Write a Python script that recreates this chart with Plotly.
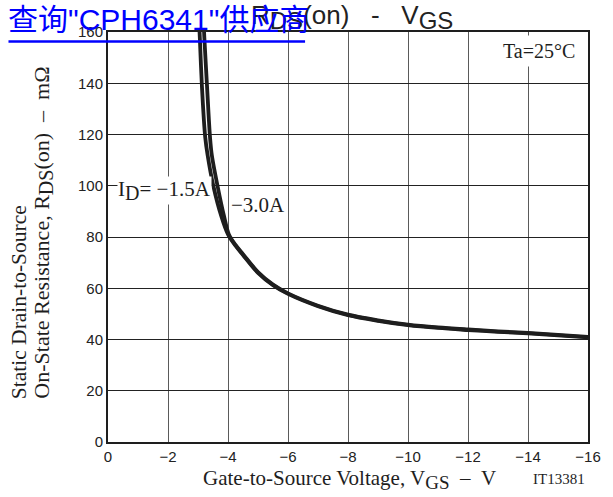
import plotly.graph_objects as go

# ---- data ----
vgs_ticks = [0, -2, -4, -6, -8, -10, -12, -14, -16]
vgs_tick_labels = ["0", "\u22122", "\u22124", "\u22126", "\u22128", "\u221210", "\u221212", "\u221214", "\u221216"]
rds_ticks = [0, 20, 40, 60, 80, 100, 120, 140, 160]
rds_tick_labels = ["0", "20", "40", "60", "80", "100", "120", "140", "160"]

vgs_id15 = [-3.04, -3.06, -3.13, -3.24, -3.32, -3.51, -3.78, -4.0, -4.25, -4.5, -5.0, -5.5, -6.0,
            -7.0, -8.0, -9.0, -10.0, -11.0, -12.0, -13.0, -14.0, -15.0, -16.0]
rds_id15 = [163, 158, 139, 119, 112, 100, 88, 81, 76.6, 73, 66, 61.2, 57.8,
            53, 49.5, 47.3, 45.6, 44.5, 43.7, 43, 42.4, 41.6, 40.8]

vgs_id30 = [-3.19, -3.21, -3.30, -3.40, -3.46, -3.65, -3.87, -4.03, -4.25, -4.5, -5.0, -5.5, -6.0,
            -7.0, -8.0, -9.0, -10.0, -11.0, -12.0, -13.0, -14.0, -15.0, -16.0]
rds_id30 = [163, 158, 139, 119, 112, 100, 88, 81, 76.9, 73.3, 66.3, 61.4, 58.0,
            53.2, 49.7, 47.5, 45.8, 44.7, 43.9, 43.2, 42.6, 41.8, 41.0]

W, H = 613, 497
L, R, T, B = 108, 13, 32, 55
PW, PH = W - L - R, H - T - B


def px(x):
    return (x - L) / PW


def py(y):
    return (H - B - y) / PH


def sub(s, size):
    return "<sub><span style='font-size:%dpx'>%s</span></sub>" % (size, s)


NB = "\u00a0"
SERIF = "Liberation Serif, Times New Roman, serif"
SANS = "Liberation Sans, Arial, sans-serif"
INK = "#1e1e1e"

fig = go.Figure()
for xs, ys in [(vgs_id15, rds_id15), (vgs_id30, rds_id30)]:
    fig.add_trace(go.Scatter(x=xs, y=ys, mode="lines",
                             line=dict(color=INK, width=3.8, shape="spline", smoothing=0.9),
                             showlegend=False, hoverinfo="skip"))

annotations = [
    # title
    dict(text="R" + sub("DS", 24) + "(on)" + NB * 3 + "-" + NB * 3 + "V" + sub("GS", 24),
         x=px(253), y=py(17),
         xanchor="left", yanchor="middle", font=dict(family=SANS, size=26, color="#222")),
    # y axis title lines
    dict(text="Static Drain-to-Source", x=px(17), y=py(401), textangle=-90,
         xanchor="center", yanchor="bottom", font=dict(family=SERIF, size=21.5, color=INK)),
    dict(text="On-State Resistance, R" + sub("DS", 20) + "(on)" + NB * 2 + "\u2013" + NB * 2 + "m\u03a9",
         x=px(41), y=py(401), textangle=-90,
         xanchor="center", yanchor="bottom", font=dict(family=SERIF, size=22, color=INK)),
    # x axis title
    dict(text="Gate-to-Source Voltage, V" + sub("GS", 19) + NB * 2 + "\u2013" + NB * 2 + "V",
         x=px(203), y=py(479),
         xanchor="left", yanchor="middle", font=dict(family=SERIF, size=21, color=INK)),
    dict(text="IT13381", x=px(599), y=py(479),
         xanchor="right", yanchor="middle", font=dict(family=SERIF, size=15, color=INK)),
    # condition
    dict(text="Ta=25\u00b0C", x=px(592), y=py(51), xanchor="right", yanchor="middle",
         bgcolor="white", borderpad=4, font=dict(family=SERIF, size=20, color=INK)),
    # curve labels
    dict(text="I" + sub("D", 20) + "= \u22121.5A", x=px(117), y=py(190), xanchor="left", yanchor="middle",
         bgcolor="white", borderpad=0, font=dict(family=SERIF, size=21, color=INK)),
    dict(text="\u22123.0A", x=px(233), y=py(205), xanchor="left", yanchor="middle",
         bgcolor="white", borderpad=0, font=dict(family=SERIF, size=21, color=INK)),
    # overlaid link text
    dict(text="\u67e5\u8be2\"CPH6341\"\u4f9b\u5e94\u5546", x=px(3), y=py(20),
         xanchor="left", yanchor="middle",
         font=dict(family="Liberation Sans, Noto Sans CJK SC, sans-serif", size=30, color="#0000ff")),
]
for a in annotations:
    a.setdefault("xref", "paper")
    a.setdefault("yref", "paper")
    a.setdefault("showarrow", False)

fig.update_layout(
    width=W, height=H,
    margin=dict(l=L, r=R, t=T, b=B),
    paper_bgcolor="white", plot_bgcolor="white",
    annotations=annotations,
    shapes=[dict(type="line", xref="paper", yref="paper", x0=px(6), x1=px(310),
                 y0=py(41.5), y1=py(41.5), line=dict(color="#0000ff", width=2.5))],
)
fig.update_xaxes(range=[0, -16], tickvals=vgs_ticks, ticktext=vgs_tick_labels,
                 showgrid=True, gridcolor="#5a5a5a", gridwidth=1,
                 showline=True, linecolor=INK, linewidth=2, mirror=True,
                 ticks="", zeroline=False,
                 tickfont=dict(family=SANS, size=15, color="#222"))
fig.update_yaxes(range=[0, 160], tickvals=rds_ticks, ticktext=rds_tick_labels,
                 showgrid=True, gridcolor="#222", gridwidth=1,
                 showline=True, linecolor=INK, linewidth=2, mirror=True,
                 ticks="", zeroline=False,
                 tickfont=dict(family=SANS, size=15, color="#222"))

fig.write_html("out.html", config={"displayModeBar": False},
               post_script="document.body.style.margin='0';document.body.style.overflow='hidden';")
